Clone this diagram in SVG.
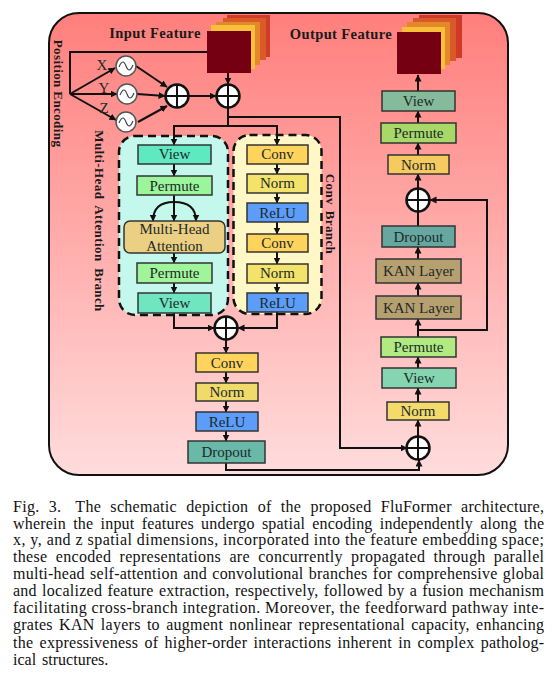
<svg xmlns="http://www.w3.org/2000/svg" width="554" height="676" viewBox="0 0 554 676">
<defs>
<linearGradient id="bg" x1="0" y1="0" x2="0" y2="1"><stop offset="0" stop-color="#ff7f7c"/><stop offset="1" stop-color="#ffdcdc"/></linearGradient>
<marker id="a" markerUnits="userSpaceOnUse" markerWidth="8" markerHeight="8" refX="6.5" refY="3.5" orient="auto"><path d="M0 0L7 3.5L0 7Z" fill="#111"/></marker>
<g id="sine"><circle r="10" fill="#fff" stroke="#555" stroke-width="1.5"/><path d="M-7 1C-4 -6 -2 -5 0 0S4 6 7 -1" fill="none" stroke="#444" stroke-width="1.2"/></g>
<g id="plus"><circle r="11.5" fill="#fff" stroke="#111" stroke-width="2.5"/><path d="M-11.5 0H11.5M0 -11.5V11.5" stroke="#111" stroke-width="2"/></g>
</defs>
<style>
.t{font-family:"Liberation Serif","Times New Roman",serif;fill:#1c2a2a;font-size:15px;text-anchor:middle}
.b{font-family:"Liberation Serif","Times New Roman",serif;font-weight:bold;fill:#1a1a1a;letter-spacing:.4px}
.c{font-family:"Liberation Serif","Times New Roman",serif;font-size:16px;fill:#111}
.n{stroke:#333;stroke-width:1.5}
.l{fill:none;stroke:#111;stroke-width:2;marker-end:url(#a)}
.p{fill:none;stroke:#111;stroke-width:2}
.d{stroke:#111;stroke-width:2.5;stroke-dasharray:8 5}
</style>
<rect width="554" height="676" fill="#fff"/>
<rect id="background" x="49" y="13" width="459" height="462" rx="30" fill="url(#bg)" stroke="#111" stroke-width="2"/>
<g id="attention-branch-panel"><rect class="d" x="119" y="136" width="109" height="179" rx="16" fill="#c5f8ec"/></g>
<g id="conv-branch-panel"><rect class="d" x="233.500" y="135" width="88" height="179" rx="16" fill="#fff8c6"/></g>
<g id="connectors">
<path class="p" d="M207 52H70V94"/>
<path class="l" d="M70 94L115 68"/><path class="l" d="M70 94L117 94"/><path class="l" d="M70 94L116 120"/>
<path class="l" d="M136 66L167 87"/><path class="l" d="M137 94L165 96"/><path class="l" d="M138 122L167 106"/>
<path class="l" d="M189 96H216"/><path class="l" d="M228 73V84"/>
<path class="p" d="M228 108V126"/>
<path class="l" d="M228 126H174V145"/><path class="l" d="M228 126H277V145"/>
<path class="l" d="M228 117H340V448H407"/>
<path class="l" d="M174 164V176"/><path class="l" d="M174 195V221"/>
<path class="l" d="M174 202C160 202 153 208 153 221"/><path class="l" d="M174 202C188 202 196 208 196 221"/>
<path class="l" d="M174 253V263"/><path class="l" d="M174 283V293"/>
<path class="l" d="M277 164V174"/><path class="l" d="M277 193V203"/><path class="l" d="M277 222V234"/><path class="l" d="M277 252V264"/><path class="l" d="M277 283V293"/>
<path class="l" d="M174 313V328H214"/><path class="l" d="M277 312V328H238"/>
<path class="l" d="M226 340V353"/><path class="l" d="M226 372V383"/><path class="l" d="M226 401V412"/><path class="l" d="M226 431V441"/>
<path class="l" d="M226 463V470H419V460"/>
<path class="l" d="M418 436V420"/><path class="l" d="M418 402V388"/><path class="l" d="M418 368V357"/><path class="l" d="M418 337V319"/><path class="l" d="M418 296V283"/><path class="l" d="M418 259V247"/>
<path class="p" d="M418 226V212"/><path class="l" d="M418 330H487V200H430"/>
<path class="l" d="M418 188V174"/><path class="l" d="M418 155V143"/><path class="l" d="M418 123V111"/><path class="l" d="M418 91V75"/>
</g>
<g id="input-feature">
<rect x="227" y="15" width="43" height="42" fill="#d03c28"/><rect x="223" y="18" width="43" height="42" fill="#da5a28"/><rect x="216" y="22" width="44" height="43" fill="#e5882c"/><rect x="211" y="25" width="44" height="44" fill="#f8bf38"/><rect x="207" y="31" width="44" height="42" fill="#750012"/>
<text class="b" x="155" y="38" font-size="14.500" text-anchor="middle">Input Feature</text>
</g>
<g id="output-feature">
<rect x="419" y="15" width="43" height="43" fill="#cf3a28"/><rect x="413" y="18" width="43" height="43" fill="#d85a28"/><rect x="407" y="22" width="43" height="43" fill="#e5882c"/><rect x="402" y="27" width="43" height="42" fill="#f8bf38"/><rect x="397" y="32" width="44" height="42" fill="#750012"/>
<text class="b" x="341" y="39" font-size="14.500" text-anchor="middle">Output Feature</text>
</g>
<g id="position-encoding"><text class="b" font-size="13" text-anchor="middle" transform="translate(54 93.500) rotate(90)">Position Encoding</text></g>
<g id="enc-x"><use href="#sine" x="126" y="66"/><text class="t" x="102" y="70">X</text></g>
<g id="enc-y"><use href="#sine" x="127" y="94"/><text class="t" x="104" y="93">Y</text></g>
<g id="enc-z"><use href="#sine" x="126" y="122"/><text class="t" x="104" y="113">Z</text></g>
<g id="add-pos"><use href="#plus" x="177" y="96"/></g>
<g id="add-input"><use href="#plus" x="228" y="96"/></g>
<g id="attn-view-1"><rect class="n" x="138" y="145" width="73" height="19" fill="#5fe9c0"/><text class="t" x="174.500" y="159">View</text></g>
<g id="attn-permute-1"><rect class="n" x="137" y="176" width="75" height="19" fill="#9bf59b"/><text class="t" x="174.500" y="191">Permute</text></g>
<g id="attn-mha"><rect class="n" x="124" y="221" width="101" height="32" rx="6" fill="#ebcf82"/><text class="t" x="174.500" y="234">Multi-Head</text><text class="t" x="174.500" y="251">Attention</text></g>
<g id="attn-permute-2"><rect class="n" x="137" y="263" width="75" height="20" fill="#a0f59b"/><text class="t" x="174.500" y="278">Permute</text></g>
<g id="attn-view-2"><rect class="n" x="138" y="293" width="73" height="20" fill="#6fe5c0"/><text class="t" x="174.500" y="308">View</text></g>
<g id="conv-conv-1"><rect class="n" x="247" y="145" width="61" height="19" fill="#ffd35c"/><text class="t" x="277.500" y="159">Conv</text></g>
<g id="conv-norm-1"><rect class="n" x="247" y="174" width="61" height="19" fill="#f3e36a"/><text class="t" x="277.500" y="188">Norm</text></g>
<g id="conv-relu-1"><rect class="n" x="247" y="203" width="61" height="19" fill="#5d9dfa"/><text class="t" x="277.500" y="218">ReLU</text></g>
<g id="conv-conv-2"><rect class="n" x="247" y="234" width="61" height="18" fill="#ffd35c"/><text class="t" x="277.500" y="248">Conv</text></g>
<g id="conv-norm-2"><rect class="n" x="247" y="264" width="61" height="19" fill="#f3e36a"/><text class="t" x="277.500" y="278">Norm</text></g>
<g id="conv-relu-2"><rect class="n" x="247" y="293" width="61" height="19" fill="#5d9dfa"/><text class="t" x="277.500" y="308">ReLU</text></g>
<g id="attention-branch-label"><text class="b" font-size="13" text-anchor="middle" word-spacing="3" transform="translate(95 221) rotate(90)">Multi-Head  Attention  Branch</text></g>
<g id="conv-branch-label"><text class="b" font-size="13" text-anchor="middle" word-spacing="2" transform="translate(326 214) rotate(90)">Conv Branch</text></g>
<g id="add-branches"><use href="#plus" x="226" y="328"/></g>
<g id="ff-conv"><rect class="n" x="196" y="353" width="62" height="19" fill="#ffd35c"/><text class="t" x="227" y="368">Conv</text></g>
<g id="ff-norm"><rect class="n" x="196" y="383" width="62" height="18" fill="#f0da6a"/><text class="t" x="227" y="397">Norm</text></g>
<g id="ff-relu"><rect class="n" x="196" y="412" width="62" height="19" fill="#5d9dfa"/><text class="t" x="227" y="427">ReLU</text></g>
<g id="ff-dropout"><rect class="n" x="188" y="441" width="77" height="22" fill="#69b8a8"/><text class="t" x="226.500" y="457">Dropout</text></g>
<g id="add-res-1"><use href="#plus" x="418" y="448"/></g>
<g id="out-norm-1"><rect class="n" x="387" y="402" width="62" height="18" fill="#f3da6a"/><text class="t" x="418" y="416">Norm</text></g>
<g id="out-view-1"><rect class="n" x="382" y="368" width="74" height="20" fill="#85d6b0"/><text class="t" x="419" y="383">View</text></g>
<g id="out-permute-1"><rect class="n" x="381" y="337" width="75" height="20" fill="#b0ea80"/><text class="t" x="418.500" y="352">Permute</text></g>
<g id="out-kan-1"><rect class="n" x="376" y="296" width="85" height="23" fill="#b7a070"/><text class="t" x="418.500" y="313">KAN Layer</text></g>
<g id="out-kan-2"><rect class="n" x="376" y="259" width="85" height="24" fill="#b7a070"/><text class="t" x="418.500" y="276">KAN Layer</text></g>
<g id="out-dropout"><rect class="n" x="382" y="226" width="73" height="21" fill="#66a8a0"/><text class="t" x="418.500" y="242">Dropout</text></g>
<g id="add-res-2"><use href="#plus" x="418" y="200"/></g>
<g id="out-norm-2"><rect class="n" x="388" y="155" width="61" height="19" fill="#f5cb60"/><text class="t" x="418.500" y="170">Norm</text></g>
<g id="out-permute-2"><rect class="n" x="381" y="123" width="75" height="20" fill="#a8d868"/><text class="t" x="418.500" y="138">Permute</text></g>
<g id="out-view-2"><rect class="n" x="382" y="91" width="73" height="20" fill="#85bb9a"/><text class="t" x="418.500" y="106">View</text></g>
<g id="caption">
<text class="c" x="13" y="511.500" textLength="531" word-spacing="5">Fig. 3. <tspan dx="5">The schematic depiction of the proposed FluFormer architecture,</tspan></text>
<text class="c" x="13" y="528.500" textLength="531" word-spacing="3">wherein the input features undergo spatial encoding independently along the</text>
<text class="c" x="13" y="545" textLength="531">x, y, and z spatial dimensions, incorporated into the feature embedding space;</text>
<text class="c" x="13" y="562" textLength="531" word-spacing="4">these encoded representations are concurrently propagated through parallel</text>
<text class="c" x="13" y="579" textLength="531" word-spacing="1">multi-head self-attention and convolutional branches for comprehensive global</text>
<text class="c" x="13" y="596" textLength="531" word-spacing="1">and localized feature extraction, respectively, followed by a fusion mechanism</text>
<text class="c" x="13" y="613" textLength="531">facilitating cross-branch integration. Moreover, the feedforward pathway inte-</text>
<text class="c" x="13" y="630" textLength="531" word-spacing="2">grates KAN layers to augment nonlinear representational capacity, enhancing</text>
<text class="c" x="13" y="647.500" textLength="531" word-spacing="2">the expressiveness of higher-order interactions inherent in complex patholog-</text>
<text class="c" x="13" y="664.500" word-spacing="2">ical structures.</text>
</g>
</svg>
